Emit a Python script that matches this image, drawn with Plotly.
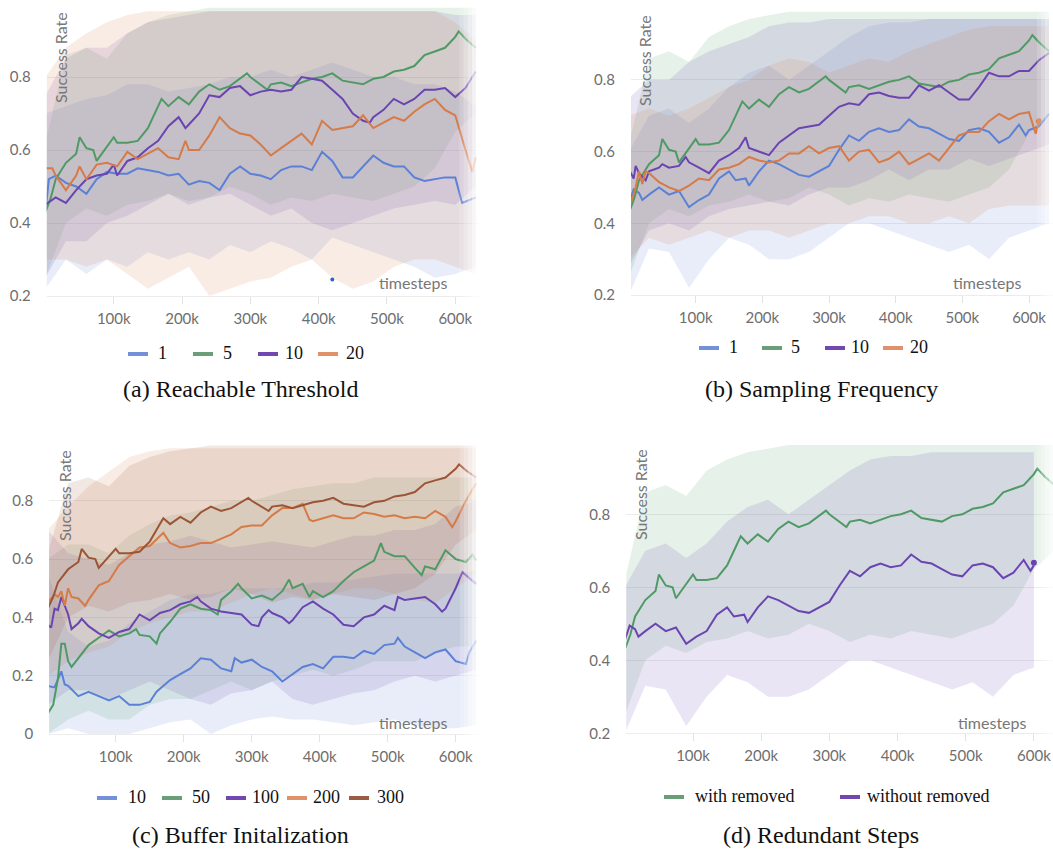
import plotly.graph_objects as go

W, H = 1053, 849

# ---------------- data (timesteps in thousands) ----------------
# default run (green "5" in a/b, brown "300" in c, green "with removed" in d)
DEF_K = [0, 8, 15, 30, 45, 50, 60, 70, 75, 90, 100, 105, 120, 135, 150, 165, 170, 180, 195, 210,
         225, 240, 255, 270, 285, 295, 300, 315, 325, 330, 345, 360, 375, 390, 405, 420, 435, 450, 465, 480,
         495, 510, 525, 540, 555, 570, 585, 600, 605, 615, 630]
DEF_Y = [0.43, 0.47, 0.52, 0.565, 0.59, 0.635, 0.605, 0.60, 0.57, 0.61, 0.635, 0.62, 0.62, 0.625, 0.66, 0.72, 0.74, 0.72, 0.745, 0.725,
         0.76, 0.78, 0.765, 0.775, 0.795, 0.81, 0.80, 0.78, 0.765, 0.78, 0.785, 0.775, 0.785, 0.795, 0.80, 0.81, 0.79, 0.785, 0.78, 0.795,
         0.80, 0.815, 0.82, 0.83, 0.86, 0.87, 0.88, 0.91, 0.925, 0.905, 0.88]

# (a) Reachable Threshold
A1_K = [0, 5, 15, 30, 45, 60, 75, 90, 105, 120, 135, 150, 165, 180, 195, 210, 225, 240, 255, 270,
        285, 300, 315, 330, 345, 360, 375, 390, 405, 420, 435, 450, 465, 480, 495, 510, 525, 540, 555, 570,
        585, 600, 610, 630]
A1_Y = [0.43, 0.52, 0.53, 0.51, 0.50, 0.48, 0.52, 0.54, 0.535, 0.535, 0.55, 0.545, 0.54, 0.53, 0.535, 0.505, 0.515, 0.51, 0.49, 0.535,
        0.555, 0.535, 0.53, 0.52, 0.545, 0.555, 0.555, 0.545, 0.595, 0.57, 0.525, 0.525, 0.555, 0.585, 0.565, 0.555, 0.555, 0.525, 0.515, 0.52,
        0.525, 0.525, 0.455, 0.47]
A10_K = [0, 15, 30, 45, 60, 75, 90, 100, 105, 120, 135, 150, 165, 180, 195, 205, 210, 225, 240, 255,
         270, 285, 300, 315, 330, 345, 360, 375, 390, 405, 420, 435, 450, 465, 475, 480, 495, 510, 525, 540,
         555, 570, 585, 600, 615, 630]
A10_Y = [0.45, 0.47, 0.455, 0.49, 0.52, 0.53, 0.535, 0.56, 0.53, 0.57, 0.58, 0.605, 0.625, 0.665, 0.69, 0.66, 0.67, 0.70, 0.75, 0.745,
         0.77, 0.775, 0.75, 0.76, 0.765, 0.76, 0.765, 0.80, 0.795, 0.79, 0.765, 0.74, 0.70, 0.68, 0.675, 0.69, 0.71, 0.74, 0.725, 0.74,
         0.765, 0.765, 0.77, 0.745, 0.77, 0.815]
A20_K = [0, 10, 15, 30, 45, 50, 60, 75, 90, 105, 120, 135, 150, 165, 180, 195, 205, 210, 225, 240,
         255, 270, 285, 300, 315, 330, 345, 360, 375, 390, 405, 420, 435, 450, 465, 480, 495, 510, 525, 540,
         555, 570, 585, 600, 615, 625, 630]
A20_Y = [0.55, 0.55, 0.53, 0.49, 0.53, 0.555, 0.52, 0.56, 0.565, 0.555, 0.595, 0.575, 0.59, 0.605, 0.58, 0.575, 0.625, 0.60, 0.60, 0.64,
         0.69, 0.66, 0.645, 0.64, 0.615, 0.585, 0.605, 0.625, 0.645, 0.615, 0.68, 0.655, 0.66, 0.665, 0.695, 0.66, 0.675, 0.69, 0.68, 0.705,
         0.725, 0.74, 0.71, 0.695, 0.60, 0.54, 0.58]

# (b) Sampling Frequency (B1 is also "without removed" in d)
B1_K = [0, 7, 15, 20, 30, 45, 60, 75, 90, 105, 120, 135, 150, 160, 175, 180, 195, 210, 225, 240,
        255, 270, 285, 300, 315, 330, 345, 360, 375, 390, 405, 420, 435, 450, 465, 480, 495, 510, 525, 540,
        555, 570, 585, 595, 600, 615, 630]
B1_Y = [0.455, 0.495, 0.485, 0.465, 0.48, 0.50, 0.48, 0.49, 0.445, 0.465, 0.48, 0.525, 0.545, 0.52, 0.525, 0.505, 0.545, 0.575, 0.565, 0.55,
        0.535, 0.53, 0.545, 0.56, 0.605, 0.645, 0.63, 0.655, 0.665, 0.655, 0.66, 0.69, 0.67, 0.665, 0.65, 0.635, 0.63, 0.66, 0.665, 0.655,
        0.625, 0.64, 0.675, 0.645, 0.66, 0.67, 0.705]
B10_K = [0, 7, 10, 15, 25, 30, 45, 50, 60, 75, 85, 90, 105, 120, 135, 150, 165, 175, 180, 195,
         210, 225, 240, 255, 270, 285, 300, 315, 330, 345, 360, 375, 390, 405, 420, 435, 450, 465, 480, 495,
         510, 525, 540, 555, 570, 585, 600, 615, 630]
B10_Y = [0.55, 0.525, 0.56, 0.54, 0.52, 0.545, 0.555, 0.565, 0.555, 0.56, 0.585, 0.57, 0.555, 0.54, 0.575, 0.59, 0.61, 0.64, 0.61, 0.60,
         0.59, 0.625, 0.645, 0.665, 0.67, 0.675, 0.70, 0.725, 0.735, 0.73, 0.76, 0.765, 0.755, 0.75, 0.75, 0.785, 0.77, 0.785, 0.765, 0.745,
         0.745, 0.78, 0.82, 0.81, 0.81, 0.825, 0.825, 0.855, 0.875]
B20_K = [0, 10, 15, 20, 25, 30, 45, 60, 75, 90, 105, 120, 135, 150, 165, 180, 195, 210, 225, 240,
         255, 270, 285, 300, 315, 330, 345, 360, 375, 390, 405, 420, 435, 450, 465, 480, 495, 510, 525, 540,
         555, 570, 585, 600, 610, 615]
B20_Y = [0.44, 0.50, 0.545, 0.51, 0.545, 0.54, 0.515, 0.50, 0.49, 0.505, 0.525, 0.52, 0.55, 0.555, 0.565, 0.585, 0.575, 0.57, 0.575, 0.595,
         0.595, 0.615, 0.595, 0.61, 0.615, 0.575, 0.60, 0.605, 0.57, 0.58, 0.60, 0.565, 0.58, 0.595, 0.575, 0.61, 0.645, 0.655, 0.655, 0.685,
         0.705, 0.69, 0.705, 0.71, 0.65, 0.685]

# (c) Buffer Initalization
C10_K = [0, 10, 20, 25, 30, 45, 60, 75, 90, 105, 120, 135, 150, 160, 165, 180, 195, 210, 225, 240,
         255, 270, 275, 285, 300, 315, 330, 345, 360, 375, 390, 405, 420, 435, 450, 465, 480, 495, 510, 515,
         525, 540, 555, 570, 585, 600, 615, 620, 630]
C10_Y = [0.165, 0.16, 0.215, 0.17, 0.165, 0.13, 0.145, 0.13, 0.115, 0.13, 0.10, 0.10, 0.11, 0.145, 0.155, 0.185, 0.205, 0.225, 0.26, 0.255,
         0.225, 0.215, 0.26, 0.245, 0.255, 0.23, 0.215, 0.18, 0.205, 0.23, 0.24, 0.225, 0.265, 0.265, 0.26, 0.285, 0.275, 0.305, 0.31, 0.33,
         0.30, 0.28, 0.26, 0.28, 0.29, 0.25, 0.24, 0.28, 0.32]
C50_K = [0, 8, 15, 20, 25, 30, 35, 45, 60, 75, 90, 105, 120, 130, 135, 150, 160, 165, 180, 195,
         210, 225, 240, 250, 255, 270, 280, 285, 300, 315, 330, 345, 355, 360, 375, 385, 390, 405, 420, 435,
         450, 465, 480, 490, 495, 510, 525, 540, 550, 555, 570, 585, 600, 615, 625, 630]
C50_Y = [0.07, 0.10, 0.19, 0.31, 0.31, 0.25, 0.23, 0.26, 0.305, 0.33, 0.355, 0.335, 0.345, 0.36, 0.34, 0.335, 0.31, 0.345, 0.385, 0.43,
         0.445, 0.43, 0.425, 0.41, 0.46, 0.49, 0.515, 0.50, 0.465, 0.475, 0.46, 0.49, 0.53, 0.50, 0.515, 0.47, 0.49, 0.47, 0.49, 0.525,
         0.555, 0.575, 0.595, 0.655, 0.625, 0.61, 0.61, 0.57, 0.545, 0.575, 0.565, 0.63, 0.60, 0.59, 0.615, 0.595]
C100_K = [0, 5, 10, 15, 20, 25, 30, 35, 45, 50, 60, 75, 90, 105, 120, 135, 150, 165, 180, 195,
          210, 220, 225, 240, 255, 270, 285, 300, 310, 315, 325, 330, 345, 355, 360, 375, 390, 405, 420, 435,
          450, 465, 480, 495, 510, 515, 525, 540, 555, 570, 580, 585, 600, 610, 615, 630]
C100_Y = [0.375, 0.365, 0.43, 0.425, 0.47, 0.44, 0.41, 0.36, 0.38, 0.395, 0.37, 0.345, 0.33, 0.35, 0.36, 0.41, 0.39, 0.415, 0.425, 0.445,
          0.455, 0.47, 0.455, 0.43, 0.42, 0.415, 0.41, 0.375, 0.37, 0.40, 0.425, 0.415, 0.40, 0.38, 0.39, 0.435, 0.455, 0.43, 0.41, 0.375,
          0.37, 0.40, 0.41, 0.44, 0.425, 0.47, 0.46, 0.465, 0.47, 0.445, 0.42, 0.43, 0.50, 0.555, 0.545, 0.515]
C200_K = [0, 10, 15, 20, 25, 30, 35, 45, 55, 60, 75, 90, 105, 120, 135, 150, 165, 170, 180, 195,
          210, 225, 240, 255, 270, 285, 300, 315, 330, 345, 360, 375, 385, 390, 405, 420, 435, 450, 465, 480,
          495, 510, 525, 540, 555, 570, 585, 595, 600, 615, 630]
C200_Y = [0.45, 0.48, 0.47, 0.49, 0.44, 0.50, 0.47, 0.465, 0.44, 0.46, 0.51, 0.525, 0.58, 0.61, 0.64, 0.645, 0.68, 0.69, 0.655, 0.64,
          0.645, 0.655, 0.655, 0.67, 0.685, 0.71, 0.715, 0.715, 0.75, 0.775, 0.775, 0.79, 0.735, 0.73, 0.74, 0.75, 0.74, 0.74, 0.76, 0.755,
          0.745, 0.75, 0.74, 0.745, 0.74, 0.765, 0.745, 0.71, 0.73, 0.80, 0.86]

# shaded bands (lower / upper), sampled every 30k
BAND_K = [0, 30, 60, 90, 120, 150, 180, 210, 240, 270, 300, 330, 360, 390, 420, 450, 480, 510, 540, 570, 600, 630]
DEF_LO = [0.25, 0.40, 0.44, 0.42, 0.45, 0.46, 0.48, 0.46, 0.47, 0.50, 0.48, 0.45, 0.47, 0.46, 0.48, 0.47, 0.46, 0.48, 0.50, 0.55, 0.65, 0.70]
DEF_HI = [0.62, 0.86, 0.88, 0.85, 0.92, 0.95, 0.97, 0.98, 0.99, 0.99, 0.99, 0.99, 0.99, 0.99, 0.99, 0.99, 0.99, 0.99, 0.99, 0.99, 0.99, 0.99]
A1_LO = [0.22, 0.30, 0.26, 0.30, 0.28, 0.32, 0.30, 0.32, 0.30, 0.34, 0.32, 0.35, 0.33, 0.30, 0.36, 0.34, 0.32, 0.30, 0.28, 0.25, 0.26, 0.28]
A1_HI = [0.70, 0.72, 0.74, 0.75, 0.78, 0.78, 0.76, 0.77, 0.78, 0.80, 0.80, 0.82, 0.80, 0.82, 0.84, 0.82, 0.80, 0.80, 0.78, 0.78, 0.76, 0.72]
A10_LO = [0.25, 0.35, 0.35, 0.40, 0.42, 0.45, 0.48, 0.45, 0.47, 0.48, 0.45, 0.42, 0.44, 0.40, 0.38, 0.40, 0.42, 0.44, 0.45, 0.46, 0.45, 0.50]
A10_HI = [0.75, 0.85, 0.88, 0.88, 0.92, 0.95, 0.96, 0.97, 0.98, 0.98, 0.98, 0.98, 0.98, 0.98, 0.98, 0.98, 0.98, 0.98, 0.98, 0.98, 0.97, 0.97]
A20_LO = [0.30, 0.30, 0.28, 0.30, 0.26, 0.22, 0.25, 0.28, 0.20, 0.22, 0.24, 0.25, 0.28, 0.30, 0.25, 0.22, 0.24, 0.28, 0.30, 0.30, 0.28, 0.26]
A20_HI = [0.80, 0.88, 0.92, 0.95, 0.97, 0.98, 0.98, 0.98, 0.98, 0.98, 0.98, 0.98, 0.98, 0.98, 0.98, 0.98, 0.98, 0.98, 0.98, 0.98, 0.95, 0.90]
B1_LO = [0.20, 0.33, 0.32, 0.22, 0.30, 0.36, 0.34, 0.30, 0.30, 0.32, 0.36, 0.40, 0.40, 0.38, 0.36, 0.34, 0.32, 0.34, 0.30, 0.36, 0.38, 0.40]
B1_HI = [0.60, 0.70, 0.72, 0.68, 0.72, 0.78, 0.82, 0.84, 0.80, 0.84, 0.88, 0.92, 0.95, 0.96, 0.96, 0.97, 0.97, 0.97, 0.97, 0.97, 0.97, 0.97]
B10_LO = [0.28, 0.38, 0.40, 0.38, 0.42, 0.44, 0.45, 0.46, 0.45, 0.48, 0.50, 0.50, 0.52, 0.55, 0.52, 0.55, 0.55, 0.58, 0.56, 0.58, 0.60, 0.62]
B10_HI = [0.75, 0.80, 0.80, 0.85, 0.88, 0.90, 0.92, 0.95, 0.96, 0.96, 0.97, 0.97, 0.97, 0.97, 0.97, 0.97, 0.97, 0.97, 0.97, 0.97, 0.97, 0.97]
B20_LO = [0.30, 0.36, 0.34, 0.36, 0.38, 0.36, 0.38, 0.38, 0.36, 0.38, 0.40, 0.40, 0.42, 0.42, 0.40, 0.40, 0.42, 0.40, 0.44, 0.45, 0.45, 0.45]
B20_HI = [0.70, 0.72, 0.70, 0.72, 0.75, 0.78, 0.80, 0.84, 0.86, 0.85, 0.82, 0.84, 0.86, 0.85, 0.88, 0.90, 0.92, 0.94, 0.95, 0.95, 0.95, 0.95]
C10_LO = [0.00, 0.02, 0.00, 0.00, 0.00, 0.02, 0.04, 0.05, 0.00, 0.03, 0.05, 0.06, 0.05, 0.05, 0.04, 0.03, 0.04, 0.05, 0.03, 0.02, 0.02, 0.03]
C10_HI = [0.55, 0.35, 0.30, 0.32, 0.38, 0.42, 0.46, 0.48, 0.48, 0.50, 0.50, 0.50, 0.50, 0.52, 0.52, 0.53, 0.54, 0.55, 0.55, 0.55, 0.55, 0.56]
C50_LO = [0.00, 0.05, 0.08, 0.05, 0.05, 0.10, 0.12, 0.12, 0.15, 0.18, 0.15, 0.18, 0.20, 0.22, 0.20, 0.22, 0.25, 0.25, 0.25, 0.28, 0.30, 0.30]
C50_HI = [0.60, 0.65, 0.65, 0.62, 0.68, 0.72, 0.75, 0.76, 0.78, 0.80, 0.80, 0.82, 0.84, 0.85, 0.86, 0.86, 0.88, 0.88, 0.88, 0.88, 0.88, 0.88]
C100_LO = [0.10, 0.15, 0.15, 0.12, 0.15, 0.18, 0.15, 0.12, 0.10, 0.14, 0.15, 0.18, 0.12, 0.10, 0.12, 0.14, 0.15, 0.18, 0.20, 0.18, 0.20, 0.22]
C100_HI = [0.70, 0.62, 0.60, 0.58, 0.62, 0.65, 0.66, 0.68, 0.66, 0.64, 0.65, 0.66, 0.65, 0.64, 0.66, 0.68, 0.68, 0.70, 0.70, 0.72, 0.78, 0.80]
C200_LO = [0.20, 0.25, 0.28, 0.30, 0.35, 0.38, 0.40, 0.42, 0.42, 0.45, 0.48, 0.50, 0.48, 0.46, 0.48, 0.50, 0.50, 0.48, 0.46, 0.45, 0.50, 0.55]
C200_HI = [0.70, 0.78, 0.85, 0.90, 0.95, 0.97, 0.98, 0.98, 0.98, 0.98, 0.98, 0.98, 0.98, 0.98, 0.98, 0.98, 0.98, 0.98, 0.98, 0.98, 0.98, 0.98]

X_TICKS = [100, 200, 300, 400, 500, 600]
X_TICK_TEXT = ["100k", "200k", "300k", "400k", "500k", "600k"]
Y_TICKS_02 = [0.2, 0.4, 0.6, 0.8]
Y_TICKS_0 = [0, 0.2, 0.4, 0.6, 0.8]

CAPTIONS = ["(a) Reachable Threshold", "(b) Sampling Frequency", "(c) Buffer Initalization", "(d) Redundant Steps"]

# ---------------- styling ----------------
BLUE, GREEN, PURPLE, ORANGE, BROWN = "#5b80d6", "#4f9a64", "#6a45b1", "#d67a48", "#9b5536"
LEG = {BLUE: "#7390d8", GREEN: "#6a9e78", PURPLE: "#7048b0", ORANGE: "#e0906a", BROWN: "#9a5c44"}


def rgba(hexc, a):
    h = hexc.lstrip("#")
    return "rgba(%d,%d,%d,%.3f)" % (int(h[0:2], 16), int(h[2:4], 16), int(h[4:6], 16), a)


# panel definitions: axis suffix, x range, y range, pixel box (left, right, bottom, top)
PANELS = [
    dict(sfx="", xr=[2, 633], yr=[0.2, 1.0], box=(46.8, 477.8, 296.0, 4.0), yt=Y_TICKS_02),
    dict(sfx="2", xr=[3, 636], yr=[0.2, 1.0], box=(631.0, 1053.0, 295.0, 8.2), yt=Y_TICKS_02),
    dict(sfx="3", xr=[2, 633], yr=[0.0, 1.0], box=(49.1, 478.1, 734.0, 442.5), yt=Y_TICKS_0),
    dict(sfx="4", xr=[2, 628], yr=[0.2, 1.0], box=(626.2, 1053.0, 733.3, 441.3), yt=Y_TICKS_02),
]

SERIES = [
    # panel index, label, color, line k, line y, band lo, band hi, band length
    [(0, "1", BLUE, A1_K, A1_Y, A1_LO, A1_HI, 22),
     (0, "5", GREEN, DEF_K, DEF_Y, DEF_LO, DEF_HI, 22),
     (0, "10", PURPLE, A10_K, A10_Y, A10_LO, A10_HI, 22),
     (0, "20", ORANGE, A20_K, A20_Y, A20_LO, A20_HI, 22)],
    [(1, "1", BLUE, B1_K, B1_Y, B1_LO, B1_HI, 22),
     (1, "5", GREEN, DEF_K, DEF_Y, DEF_LO, DEF_HI, 22),
     (1, "10", PURPLE, B10_K, B10_Y, B10_LO, B10_HI, 22),
     (1, "20", ORANGE, B20_K, B20_Y, B20_LO, B20_HI, 22)],
    [(2, "10", BLUE, C10_K, C10_Y, C10_LO, C10_HI, 22),
     (2, "50", GREEN, C50_K, C50_Y, C50_LO, C50_HI, 22),
     (2, "100", PURPLE, C100_K, C100_Y, C100_LO, C100_HI, 22),
     (2, "200", ORANGE, C200_K, C200_Y, C200_LO, C200_HI, 22),
     (2, "300", BROWN, DEF_K, DEF_Y, DEF_LO, DEF_HI, 22)],
    [(3, "with removed", GREEN, DEF_K, DEF_Y, DEF_LO, DEF_HI, 22),
     (3, "without removed", PURPLE, B1_K[:45], B1_Y[:45], B1_LO, B1_HI, 21)],
]

fig = go.Figure()

# bands first
for group in SERIES:
    for (pi, lab, col, k, y, lo, hi, n) in group:
        sfx = PANELS[pi]["sfx"]
        bk = BAND_K[:n]
        fig.add_trace(go.Scatter(
            x=bk + bk[::-1], y=hi[:n] + lo[:n][::-1], fill="toself",
            fillcolor=rgba(col, 0.14), line=dict(width=0), mode="lines",
            hoverinfo="skip", showlegend=False, xaxis="x" + sfx, yaxis="y" + sfx))

# lines
for group in SERIES:
    for (pi, lab, col, k, y, lo, hi, n) in group:
        sfx = PANELS[pi]["sfx"]
        fig.add_trace(go.Scatter(
            x=k, y=y, mode="lines", line=dict(color=col, width=2),
            name=lab, showlegend=False, xaxis="x" + sfx, yaxis="y" + sfx))

# hover-marker dots visible in the original
fig.add_trace(go.Scatter(x=[420], y=[0.245], mode="markers", marker=dict(color="#2a62c9", size=4),
                         showlegend=False, xaxis="x", yaxis="y"))
fig.add_trace(go.Scatter(x=[B20_K[-1]], y=[B20_Y[-1]], mode="markers", marker=dict(color=ORANGE, size=6),
                         showlegend=False, xaxis="x2", yaxis="y2"))
fig.add_trace(go.Scatter(x=[B1_K[44]], y=[0.667], mode="markers", marker=dict(color=PURPLE, size=6),
                         showlegend=False, xaxis="x4", yaxis="y4"))

TICKFONT = dict(family="Lato, 'Open Sans', sans-serif", size=15, color="#6e6e6e")
layout = dict(width=W, height=H, margin=dict(l=0, r=0, t=0, b=0, autoexpand=False),
              paper_bgcolor="white", plot_bgcolor="white", showlegend=False)

for p in PANELS:
    l, r, b, t = p["box"]
    sfx = p["sfx"]
    layout["xaxis" + sfx] = dict(
        domain=[l / W, min(r / W, 1.0)], range=p["xr"], anchor="y" + sfx, automargin=False,
        tickvals=X_TICKS, ticktext=X_TICK_TEXT, ticks="outside", ticklen=7, tickcolor="#e2e2e2",
        showgrid=False, zeroline=False, showline=True, linecolor="#ececec", linewidth=1,
        tickfont=TICKFONT, ticklabelstandoff=2, ticklabeloverflow="allow", fixedrange=True)
    layout["yaxis" + sfx] = dict(
        domain=[1 - b / H, 1 - t / H], range=p["yr"], anchor="x" + sfx, automargin=False,
        tickvals=p["yt"], ticktext=[("0" if v == 0 else "%.1f" % v) for v in p["yt"]],
        showgrid=True, gridcolor="#ececec", zeroline=False, showline=False, ticks="",
        tickfont=TICKFONT, ticklabelstandoff=15, fixedrange=True)

fig.update_layout(**layout)

# right-edge fade (white gradient), as in the original screenshot
FADES = [
    ("", [606, 612, 618, 624, 633]),
    ("2", [612, 618, 624, 630, 636]),
    ("3", [606, 612, 618, 624, 633]),
    ("4", [604, 610, 616, 622, 628]),
]
ALPHAS = [0.18, 0.35, 0.55, 0.72]
shapes = []
for sfx, edges in FADES:
    for i, a in enumerate(ALPHAS):
        shapes.append(dict(type="rect", xref="x" + sfx, yref="y%s domain" % sfx,
                           x0=edges[i], x1=edges[i + 1], y0=-0.03, y1=1.02,
                           fillcolor=rgba("#ffffff", a), line=dict(width=0), layer="above"))

annotations = []
AXFONT = dict(family="Lato, 'Open Sans', sans-serif", size=16, color="#777777")
# "Success Rate" and "timesteps" labels (pixel positions)
for (sx, sy) in [(60, 58), (645, 61), (64, 496), (640, 495)]:
    annotations.append(dict(x=sx / W, y=1 - sy / H, xref="paper", yref="paper", text="Success Rate",
                            textangle=-90, showarrow=False, font=AXFONT, xanchor="center", yanchor="middle"))
for (tx, ty) in [(413, 283), (987, 283), (413, 722), (992, 722)]:
    annotations.append(dict(x=tx / W, y=1 - ty / H, xref="paper", yref="paper", text="timesteps",
                            showarrow=False, font=AXFONT, xanchor="center", yanchor="middle"))

# custom legends: (line x0, text x, y) in pixels
LEGEND_POS = [
    [(128, 156, 354), (193, 221, 354), (258, 283, 354), (318, 344, 354)],
    [(699, 727, 348), (762, 789, 348), (825, 849, 348), (883, 908, 348)],
    [(97, 126, 798), (162, 190, 798), (226, 250, 798), (287, 311, 798), (349, 375, 798)],
    [(664, 693, 797), (840, 865, 797)],
]
SERIF = "'Liberation Serif', 'Times New Roman', serif"
for group, pos in zip(SERIES, LEGEND_POS):
    for (pi, lab, col, *_), (lx, txt_x, ly) in zip(group, pos):
        shapes.append(dict(type="line", xref="paper", yref="paper",
                           x0=lx / W, x1=(lx + 20) / W, y0=1 - ly / H, y1=1 - ly / H,
                           line=dict(color=LEG[col], width=4)))
        annotations.append(dict(x=txt_x / W, y=1 - (ly - 1) / H, xref="paper", yref="paper", text=lab,
                                showarrow=False, xanchor="left", yanchor="middle",
                                font=dict(family=SERIF, size=18, color="#111111")))

# captions
for cap, (cx, cy) in zip(CAPTIONS, [(240, 389), (821, 389), (240, 835), (821, 835)]):
    annotations.append(dict(x=cx / W, y=1 - cy / H, xref="paper", yref="paper", text=cap,
                            showarrow=False, xanchor="center", yanchor="middle",
                            font=dict(family=SERIF, size=24, color="#111111")))

fig.update_layout(shapes=shapes, annotations=annotations)
# remove the default page margin so the 1053x849 figure sits at the window origin
fig.write_html("out.html",
               config={"displayModeBar": False},
               post_script="document.body.style.margin='0';document.body.style.padding='0';"
                           "document.documentElement.style.overflow='hidden';")
